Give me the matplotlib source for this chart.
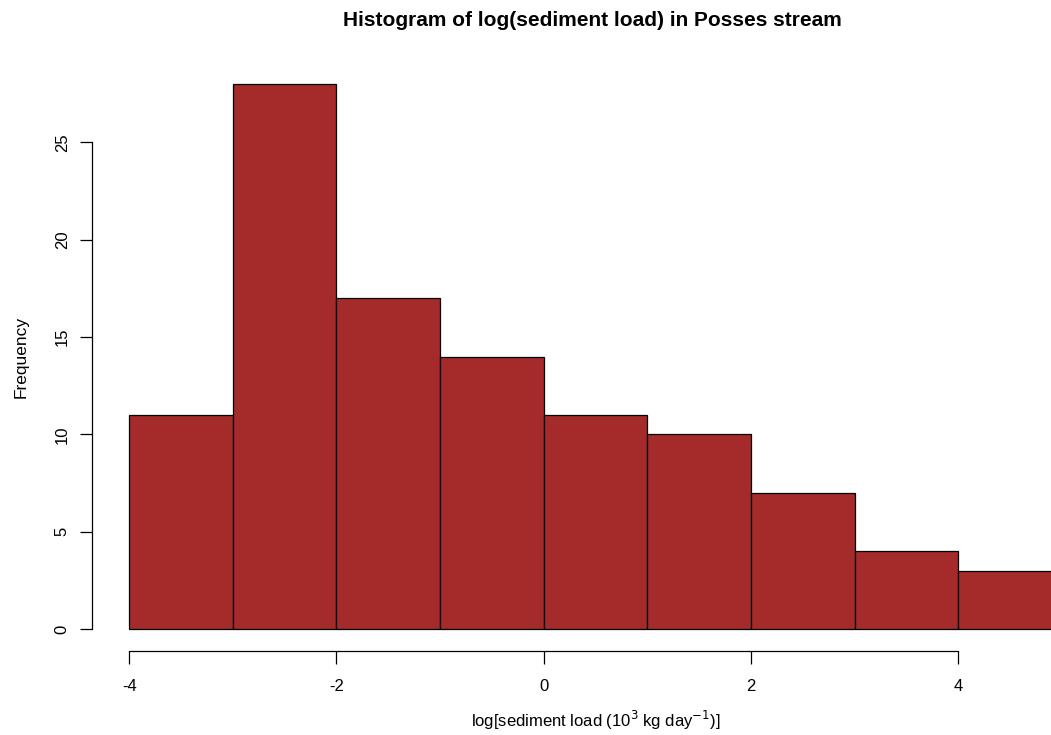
import numpy as np
import matplotlib.pyplot as plt

plt.rcParams['font.family'] = ['Liberation Sans', 'DejaVu Sans']

# histogram of log sediment load: bin edges and counts
bin_edges = [-4, -3, -2, -1, 0, 1, 2, 3, 4, 5]
counts = [11, 28, 17, 14, 11, 10, 7, 4, 3]
x_ticks = [-4, -2, 0, 2, 4]
y_ticks = [0, 5, 10, 15, 20, 25]

fig = plt.figure(figsize=(10.51, 7.35), dpi=100)
# R-style plot region (4% padding on data range), right side runs past the figure
ax = fig.add_axes([92 / 1051, 84 / 735, 1007 / 1051, 589 / 735])

left = np.array(bin_edges[:-1])
widths = np.diff(bin_edges)
ax.bar(left, counts, width=widths, align='edge', color='#A52A2A',
       edgecolor='black', linewidth=0.9)

ax.set_xlim(-4.36, 5.36)
ax.set_ylim(-1.12, 29.12)

for s in ['top', 'right']:
    ax.spines[s].set_visible(False)
ax.spines['left'].set_bounds(0, 25)
ax.spines['bottom'].set_bounds(-4, 4)
ax.spines['left'].set_linewidth(0.9)
ax.spines['bottom'].set_linewidth(0.9)

ax.set_xticks(x_ticks)
ax.set_xticklabels([str(t) for t in x_ticks])
ax.set_yticks(y_ticks)
ax.set_yticklabels([str(t) for t in y_ticks], rotation=90, va='center')
ax.tick_params(axis='both', length=9, width=0.9, labelsize=12, colors='black')
ax.tick_params(axis='x', pad=11)
ax.tick_params(axis='y', pad=7)

ax.set_xlabel(r'log[sediment load (10$^{3}$ kg day$^{-1}$)]', fontsize=12,
              labelpad=11)
ax.set_ylabel('Frequency', fontsize=12.5, labelpad=19)

# title sits centred over the plot region, near the top edge
fig.text(592 / 1051, 1 - 21 / 735,
         'Histogram of log(sediment load) in Posses stream',
         fontsize=15, fontweight='bold', ha='center', va='center')

fig.savefig('out.png', dpi=100)
